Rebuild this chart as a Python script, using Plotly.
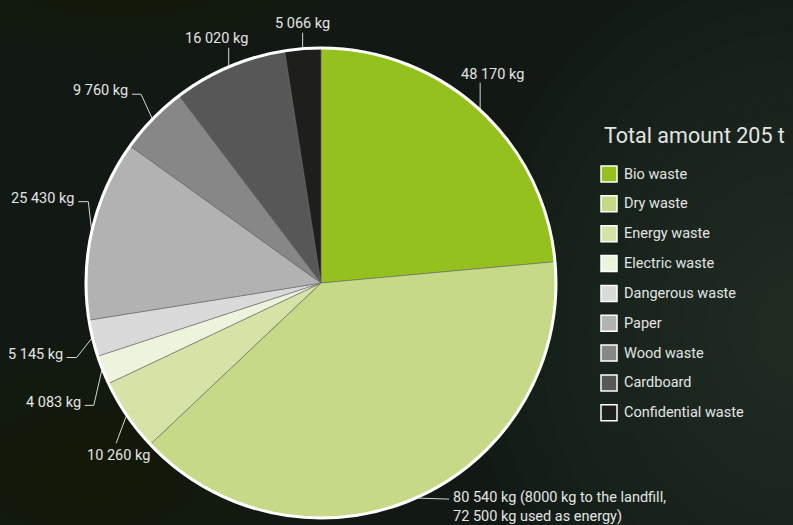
import math
import plotly.graph_objects as go

# ---------------- data ----------------
categories = ["Bio waste", "Dry waste", "Energy waste", "Electric waste",
              "Dangerous waste", "Paper", "Wood waste", "Cardboard",
              "Confidential waste"]
values_kg = [48170, 80540, 10260, 4083, 5145, 25430, 9760, 16020, 5066]
value_labels = ["48 170 kg",
                "80 540 kg (8000 kg to the landfill,<br>72 500 kg used as energy)",
                "10 260 kg", "4 083 kg", "5 145 kg", "25 430 kg",
                "9 760 kg", "16 020 kg", "5 066 kg"]
legend_title = "Total amount 205 t"

# ---------------- style / layout ----------------
colors = ["#95c11f", "#c6d986", "#d5e3a7", "#eef3dc", "#dadada",
          "#b2b2b2", "#878787", "#575757", "#1e1e1c"]
W, H = 793, 525
CX, CY, R = 321, 283, 235        # pie centre / radius in pixels (top-down)
R_EDGE = R + 1
FONT = "Roboto, 'Open Sans', sans-serif"
TXT = "#e4e4e4"
LINE = "#d6d6d6"
BG = "#121915"
FS = 14.5

# leader-line geometry for each slice: relative path steps from the rim,
# then text offset from the path end and its anchor
leader_steps = [[(0, -26)], [(31, 1)], [(-10, 27)], [(-8, 35), (-9, 0)],
                [(-15, 19), (-10, 0)], [(-3, -27), (-10, 0)],
                [(-11, -24), (-9, 0)], [(0, -18)], [(0, -15)]]
text_offsets = [(12, -8, "center"), (2, 8, "left"), (2, 12, "center"),
                (-2, -3, "right"), (-2, -3, "right"), (-2, -3, "right"),
                (-2, -4, "right"), (-12, -9.5, "center"), (0, -9, "center")]

# soft background lighting (approximation of the blurred photo backdrop)
bg_glows = [  # centre x, centre y, radius x, radius y, rgb, total alpha
    (800, 330, 330, 380, (78, 80, 70), 0.42),
    (700, 120, 200, 160, (60, 68, 58), 0.25),
    (90, 470, 260, 160, (70, 62, 25), 0.30),
    (120, -20, 260, 90, (70, 58, 22), 0.22),
    (560, 520, 200, 90, (60, 64, 45), 0.20),
]

fig = go.Figure()

fig.add_trace(go.Pie(
    labels=categories, values=values_kg, sort=False, direction="clockwise",
    rotation=0, textinfo="none", hoverinfo="label+value",
    marker=dict(colors=colors, line=dict(color="#6e6e6e", width=0.6)),
    domain=dict(x=[(CX - R) / W, (CX + R) / W],
                y=[(H - CY - R) / H, (H - CY + R) / H]),
    showlegend=False,
))

# leader lines computed from slice mid-angles
total = sum(values_kg)
xs, ys = [], []
annotations = []
cum = 0.0
for i, v in enumerate(values_kg):
    mid = (cum + v / 2) / total * 2 * math.pi
    cum += v
    px = CX + R_EDGE * math.sin(mid)
    py = CY - R_EDGE * math.cos(mid)
    xs.append(px); ys.append(py)
    for dx, dy in leader_steps[i]:
        px += dx; py += dy
        xs.append(px); ys.append(py)
    xs.append(None); ys.append(None)
    tdx, tdy, anc = text_offsets[i]
    annotations.append(dict(
        x=px + tdx, y=py + tdy, xref="x", yref="y", text=value_labels[i],
        showarrow=False, xanchor=anc, yanchor="middle",
        align="left", font=dict(family=FONT, size=FS, color=TXT)))

fig.add_trace(go.Scatter(x=xs, y=ys, mode="lines", hoverinfo="skip",
                         line=dict(color=LINE, width=1), showlegend=False))

shapes = []
STEPS = 14
for gx, gy, rx, ry, rgb, alpha in bg_glows:
    for k in range(STEPS):
        f = 1 - k / STEPS
        shapes.append(dict(type="circle", xref="x", yref="y", layer="below",
                           x0=gx - rx * f, x1=gx + rx * f,
                           y0=gy - ry * f, y1=gy + ry * f,
                           fillcolor="rgba(%d,%d,%d,%.4f)" % (rgb + (alpha / STEPS,)),
                           line=dict(width=0)))
# white rim
shapes.append(dict(type="circle", xref="x", yref="y",
                   x0=CX - R, x1=CX + R, y0=CY - R, y1=CY + R,
                   line=dict(color="white", width=3), layer="above"))

# custom legend
LX, LY0, LSTEP, SW = 601, 166, 29.85, 16
annotations.append(dict(x=LX + 1, y=135, xref="x", yref="y", text=legend_title,
                        showarrow=False, xanchor="left", yanchor="middle",
                        font=dict(family=FONT, size=21.5, color=TXT)))
for i, (cat, col) in enumerate(zip(categories, colors)):
    y0 = LY0 + i * LSTEP
    shapes.append(dict(type="rect", xref="x", yref="y",
                       x0=LX, x1=LX + SW, y0=y0, y1=y0 + SW,
                       fillcolor=col, line=dict(color="white", width=1.5)))
    annotations.append(dict(x=LX + 21, y=y0 + SW / 2, xref="x", yref="y",
                            text=cat, showarrow=False, xanchor="left",
                            yanchor="middle",
                            font=dict(family=FONT, size=FS, color=TXT)))

fig.update_layout(
    width=W, height=H, margin=dict(l=0, r=0, t=0, b=0),
    paper_bgcolor=BG, plot_bgcolor="rgba(0,0,0,0)",
    xaxis=dict(range=[0, W], visible=False, fixedrange=True),
    yaxis=dict(range=[H, 0], visible=False, fixedrange=True),
    shapes=shapes, annotations=annotations, showlegend=False,
)

fig.write_html("out.html", config={"displayModeBar": False},
               post_script="document.body.style.margin='0';"
                           "document.body.style.background='" + BG + "';")
